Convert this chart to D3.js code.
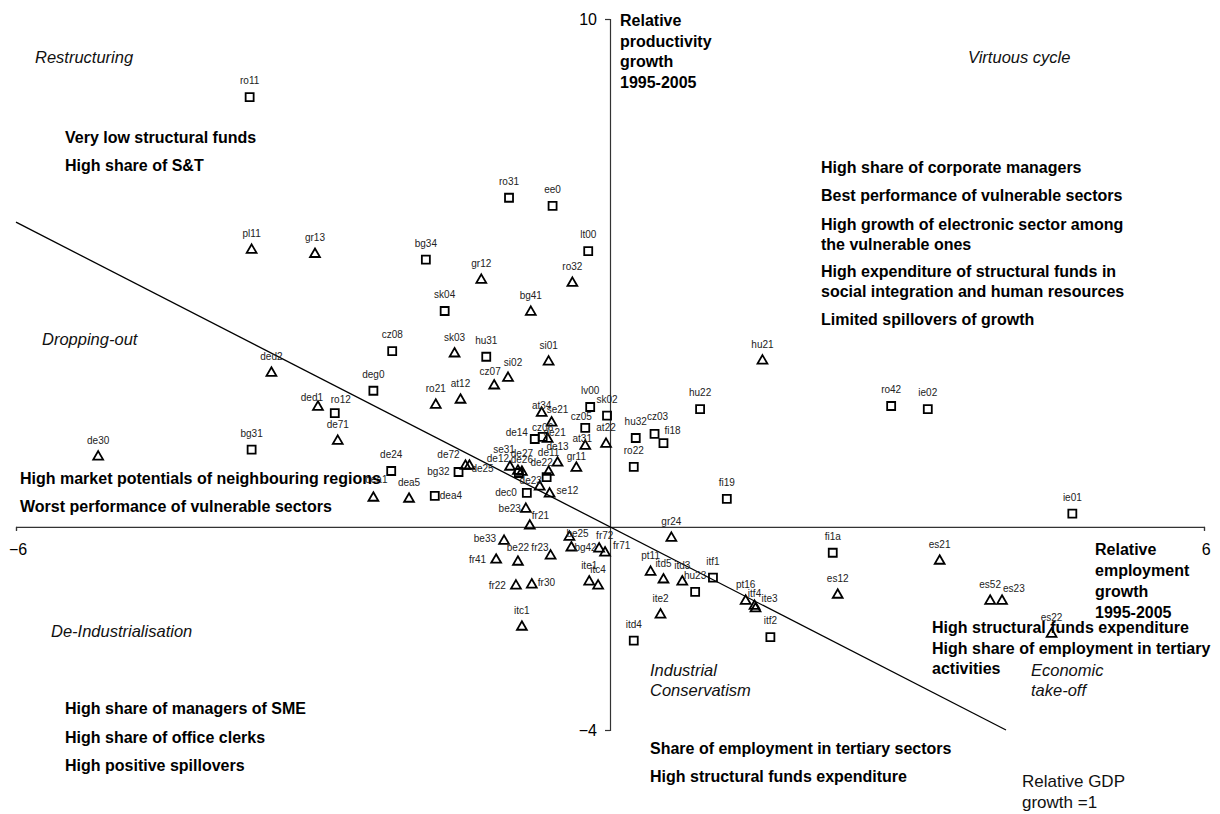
<!DOCTYPE html>
<html>
<head>
<meta charset="utf-8">
<script src="https://cdn.jsdelivr.net/npm/d3@7"></script>
<style>
  body { margin: 0; background: #fff; }
  text { font-family: "Liberation Sans", Arial, sans-serif; fill: #000; }
  .lbl { font-size: 10px; fill: #222; }
  .bold { font-size: 16px; font-weight: bold; }
  .ital { font-size: 16.5px; font-style: italic; fill: #111; }
  .plain { font-size: 17px; fill: #111; }
</style>
</head>
<body>
<div id="chart"></div>
<script>

// Regions drawn with squares
const squareRegions = ["ro11","ro31","ee0","lt00","bg34","sk04","hu31","cz08","deg0","ro12",
  "bg31","de24","bg32","dea4","dec0","de27","de22","de14","cz06","cz05","lv00","sk02",
  "hu32","ro22","cz03","fi18","hu22","ro42","ie02","fi19","ie01","fi1a","hu23","itf1","itd4","itf2"];
const squareEmp = [-3.64,-1.02,-0.58,-0.22,-1.86,-1.67,-1.25,-2.20,-2.39,-2.78,
  -3.62,-2.21,-1.53,-1.77,-0.84,-0.92,-0.64,-0.76,-0.68,-0.25,-0.20,-0.03,
  0.26,0.24,0.45,0.54,0.91,2.84,3.21,1.18,4.67,2.25,0.86,1.04,0.24,1.62];
const squareProd = [8.46,6.48,6.32,5.43,5.26,4.25,3.35,3.46,2.68,2.24,
  1.52,1.10,1.08,0.61,0.67,1.06,0.98,1.73,1.77,1.95,2.36,2.19,
  1.75,1.18,1.83,1.65,2.32,2.38,2.32,0.55,0.26,-0.51,-1.28,-1.00,-2.24,-2.17];

// Regions drawn with triangles
const triangleRegions = ["pl11","gr13","gr12","ro32","bg41","sk03","si01","si02","cz07","ro21",
  "at12","at34","se21","at22","de21","at31","de13","de11","gr11","se31","de12","de26",
  "de72","de25","de23","se12","be23","fr21","dea5","dea1","de71","ded1","ded2","de30",
  "hu21","gr24","es21","es12","es52","es23","es22","be33","be22","fr41","fr23","be25",
  "bg42","fr72","fr71","fr22","fr30","ite1","itc4","itc1","pt11","itd5","itd3","ite2",
  "pt16","itf4","ite3"];
const triangleEmp = [-3.62,-2.98,-1.30,-0.38,-0.80,-1.57,-0.62,-1.03,-1.17,-1.76,
  -1.51,-0.69,-0.59,-0.04,-0.63,-0.25,-0.53,-0.62,-0.34,-1.01,-0.93,-0.89,
  -1.46,-1.42,-0.71,-0.61,-0.85,-0.81,-2.03,-2.39,-2.75,-2.95,-3.42,-5.17,
  1.54,0.62,3.33,2.30,3.84,3.96,4.46,-1.07,-0.93,-1.15,-0.60,-0.41,
  -0.39,-0.11,-0.05,-0.95,-0.79,-0.21,-0.12,-0.89,0.41,0.54,0.73,0.51,
  1.37,1.46,1.47];
const triangleProd = [5.45,5.37,4.86,4.80,4.23,3.41,3.25,2.93,2.78,2.40,
  2.50,2.24,2.05,1.63,1.73,1.59,1.26,1.08,1.16,1.18,1.10,1.08,
  1.20,1.20,0.79,0.65,0.35,0.02,0.55,0.57,1.69,2.36,3.03,1.38,
  3.27,-0.22,-0.67,-1.34,-1.46,-1.46,-2.11,-0.28,-0.69,-0.65,-0.57,-0.20,
  -0.41,-0.43,-0.51,-1.16,-1.14,-1.08,-1.16,-1.97,-0.89,-1.04,-1.08,-1.73,
  -1.46,-1.56,-1.61];

// Relative GDP growth = 1 line
const gdpLineEmp = [-6, 4];
const gdpLineProd = [6, -4];

// axis ticks
const xTicks = [-6, 6];
const yTicks = [-4, 10];

const width = 1220, height = 814;

const svg = d3.select("#chart")
    .append("svg")
    .attr("width", width)
    .attr("height", height);

const xScale = d3.scaleLinear().domain([-6, 6]).range([16, 1204]);
const yScale = d3.scaleLinear().domain([-4, 10]).range([730, 19]);

// axes crossing at the origin
const xAxis = svg.append("g")
    .attr("transform", `translate(0,${yScale(0)})`)
    .call(d3.axisBottom(xScale).tickValues(xTicks).tickSize(4).tickSizeOuter(4).tickPadding(13)
          .tickFormat(d3.format("d")));
const yAxis = svg.append("g")
    .attr("transform", `translate(${xScale(0)},0)`)
    .call(d3.axisLeft(yScale).tickValues(yTicks).tickSize(5).tickSizeOuter(5).tickPadding(8)
          .tickFormat(d3.format("d")));
[xAxis, yAxis].forEach(g => {
  g.selectAll("path, line").attr("stroke", "#333").attr("stroke-width", 1.2);
  g.selectAll("text").attr("font-size", "16px").attr("fill", "#111")
    .attr("font-family", '"Liberation Sans", Arial, sans-serif');
});
xAxis.selectAll("text").attr("dx", "0.1em");

// GDP line
const lineData = gdpLineEmp.map((d, i) => ({ x: d, y: gdpLineProd[i] }));
svg.append("path")
    .datum(lineData)
    .attr("d", d3.line().x(d => xScale(d.x)).y(d => yScale(d.y)))
    .attr("fill", "none")
    .attr("stroke", "#000")
    .attr("stroke-width", 1.3);

// points
const points = [];
squareRegions.forEach((r, i) => points.push({ name: r, x: squareEmp[i], y: squareProd[i], shape: "sq" }));
triangleRegions.forEach((r, i) => points.push({ name: r, x: triangleEmp[i], y: triangleProd[i], shape: "tri" }));

const sqSymbol = d3.symbol(d3.symbolSquare, 64);
const triSymbol = d3.symbol(d3.symbolTriangle, 42);

svg.selectAll(".pt")
  .data(points)
  .enter()
  .append("path")
    .attr("class", "pt")
    .attr("transform", d => `translate(${xScale(d.x)},${yScale(d.y)})`)
    .attr("d", d => d.shape === "sq" ? sqSymbol() : triSymbol())
    .attr("fill", "none")
    .attr("stroke", "#000")
    .attr("stroke-width", 1.8);

// label placement: [dx, dy, anchor] from the marker, default above
const labelNudge = {
  fr21: [2, -7, "start"], be33: [-8, 1, "end"], fr23: [-2, -5, "end"], be25: [-3, 0, "start"],
  bg42: [3, 3, "start"], fr72: [-3, -10, "start"], fr71: [8, -3.5, "start"], fr41: [-10, 3.5, "end"],
  fr22: [-10, 3.5, "end"], fr30: [6, 1.5, "start"], be22: [0, -10.5, "middle"], ite3: [6, -6.5, "start"],
  itf4: [0, -9.5, "middle"], es23: [1, -9.5, "start"], se12: [7, 0.5, "start"], dec0: [-10, 3.5, "end"],
  be23: [-5, 2.5, "end"], dea4: [5, 3.5, "start"], de25: [2, 6.5, "start"], bg32: [-9, 2.5, "end"],
  de72: [-17, -7.5, "middle"], de12: [-20, -8.5, "middle"], se31: [-6, -13.5, "middle"],
  de27: [3, -16.5, "middle"], de26: [0, -9.5, "middle"], de11: [0, -16.5, "middle"],
  de22: [-5, -11.5, "middle"], de23: [-9, -2.5, "middle"], gr11: [0, -7.5, "middle"],
  de14: [-18, -2.5, "middle"], cz06: [0, -5.5, "middle"], de21: [7, -2.5, "middle"],
  at31: [-3, -4.5, "middle"], cz05: [-4, -7.5, "middle"], at34: [0, -4.5, "middle"],
  se21: [6, -9.5, "middle"], cz03: [3, -13.5, "middle"], fi18: [9, -9.5, "middle"],
  ded1: [-6, -6.5, "middle"], ro12: [6, -10.5, "middle"], si02: [5, -12, "middle"],
  cz07: [-4, -10.5, "middle"], dea1: [3, -14.5, "middle"]
};

svg.selectAll(".lbl")
  .data(points)
  .enter()
  .append("text")
    .attr("class", "lbl")
    .attr("x", d => xScale(d.x) + (labelNudge[d.name] || [0])[0])
    .attr("y", d => yScale(d.y) + (labelNudge[d.name] || [0, -13])[1])
    .attr("text-anchor", d => (labelNudge[d.name] || [0, 0, "middle"])[2])
    .text(d => d.name);

// annotations
const notes = [
  { cls: "ital", x: 35, y: 63, lines: ["Restructuring"] },
  { cls: "bold", x: 65, y: 143, lines: ["Very low structural funds"] },
  { cls: "bold", x: 65, y: 171, lines: ["High share of S&T"] },
  { cls: "ital", x: 968, y: 63, lines: ["Virtuous cycle"] },
  { cls: "bold", x: 620, y: 26, lh: 20.7, lines: ["Relative", "productivity", "growth", "1995-2005"] },
  { cls: "bold", x: 821, y: 173, lines: ["High share of corporate managers"] },
  { cls: "bold", x: 821, y: 201, lines: ["Best performance of vulnerable sectors"] },
  { cls: "bold", x: 821, y: 230, lh: 19.5, lines: ["High growth of electronic sector among", "the vulnerable ones"] },
  { cls: "bold", x: 821, y: 277, lh: 20, lines: ["High expenditure of structural funds in", "social integration and human resources"] },
  { cls: "bold", x: 821, y: 325, lines: ["Limited spillovers of growth"] },
  { cls: "ital", x: 42, y: 345, lines: ["Dropping-out"] },
  { cls: "bold", x: 20, y: 484, lines: ["High market potentials of neighbouring regions"] },
  { cls: "bold", x: 20, y: 512, lines: ["Worst performance of vulnerable sectors"] },
  { cls: "ital", x: 51, y: 637, lines: ["De-Industrialisation"] },
  { cls: "bold", x: 65, y: 714, lines: ["High share of managers of SME"] },
  { cls: "bold", x: 65, y: 743, lines: ["High share of office clerks"] },
  { cls: "bold", x: 65, y: 771, lines: ["High positive spillovers"] },
  { cls: "ital", x: 650, y: 676, lh: 20, lines: ["Industrial", "Conservatism"] },
  { cls: "bold", x: 650, y: 754, lines: ["Share of employment in tertiary sectors"] },
  { cls: "bold", x: 650, y: 782, lines: ["High structural funds expenditure"] },
  { cls: "bold", x: 1095, y: 555, lh: 21, lines: ["Relative", "employment", "growth", "1995-2005"] },
  { cls: "bold", x: 932, y: 633, lh: 20.5, lines: ["High structural funds expenditure", "High share of employment in tertiary", "activities"] },
  { cls: "ital", x: 1031, y: 676, lh: 19.5, lines: ["Economic", "take-off"] },
  { cls: "plain", x: 1022, y: 787, lh: 21, lines: ["Relative GDP", "growth =1"] }
];

notes.forEach(n => {
  const t = svg.append("text").attr("class", n.cls).attr("x", n.x).attr("y", n.y);
  n.lines.forEach((l, i) => {
    t.append("tspan").attr("x", n.x).attr("y", n.y + i * (n.lh || 0)).text(l);
  });
});

</script>
</body>
</html>
